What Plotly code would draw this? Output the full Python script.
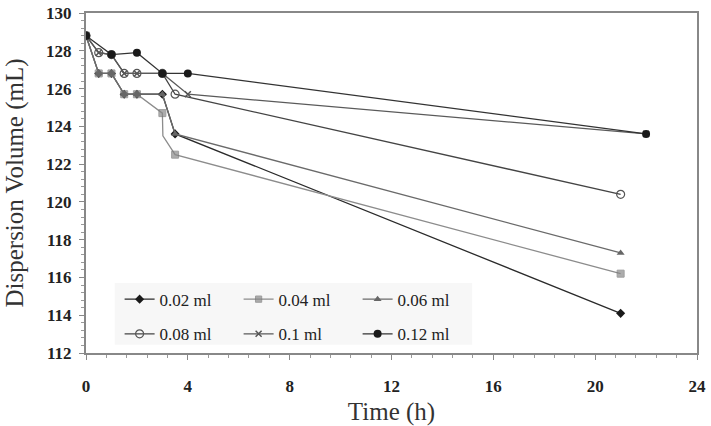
import plotly.graph_objects as go

labels = ["0.02 ml", "0.04 ml", "0.06 ml", "0.08 ml", "0.1 ml", "0.12 ml"]

t_002 = [0, 0.5, 1, 1.5, 2, 3, 3.5, 21]
v_002 = [128.8, 126.8, 126.8, 125.7, 125.7, 125.7, 123.6, 114.1]

t_004 = [0, 0.5, 1, 1.5, 2, 3, 3.02, 3.5, 21]
v_004 = [128.8, 126.8, 126.8, 125.7, 125.7, 124.7, 123.5, 122.5, 116.2]

t_006 = [0, 0.5, 1, 1.5, 2, 3, 3.5, 21]
v_006 = [128.8, 126.8, 126.8, 125.7, 125.7, 125.7, 123.6, 117.3]

t_008 = [0, 0.5, 1, 1.5, 2, 3, 3.5, 21]
v_008 = [128.8, 127.9, 127.8, 126.8, 126.8, 126.8, 125.7, 120.4]

t_010 = [0, 0.5, 1, 1.5, 2, 3, 4, 22]
v_010 = [128.8, 127.9, 127.8, 126.8, 126.8, 126.8, 125.7, 123.6]

t_012 = [0, 1, 2, 3, 4, 22]
v_012 = [128.8, 127.8, 127.9, 126.8, 126.8, 123.6]

x_ticks = [0, 4, 8, 12, 16, 20, 24]
y_ticks = [112, 114, 116, 118, 120, 122, 124, 126, 128, 130]

sq_sizes = [0 if t == 3.02 else 7 for t in t_004]

series = [
    (t_002, v_002, dict(symbol="diamond", size=7, color="#1a1a1a"), "#2a2a2a", "legend"),
    (t_004, v_004, dict(symbol="square", size=sq_sizes, color="#8a8a8a", line=dict(color="#777", width=1)), "#8c8c8c", "legend"),
    (t_006, v_006, dict(symbol="triangle-up", size=7, color="#666"), "#6a6a6a", "legend"),
    (t_008, v_008, dict(symbol="circle-open", size=8, color="#555", line=dict(width=1.2)), "#444", "legend2"),
    (t_010, v_010, dict(symbol="x-thin-open", size=6, color="#555", line=dict(width=1.5)), "#5a5a5a", "legend2"),
    (t_012, v_012, dict(symbol="circle", size=8, color="#1a1a1a"), "#333", "legend2"),
]

fig = go.Figure()
for (t, v, mk, lc, lg), name in zip(series, labels):
    fig.add_trace(go.Scatter(x=t, y=v, mode="lines+markers", name=name,
                             line=dict(color=lc, width=1.3), marker=mk, legend=lg))

serif = "Liberation Serif, Times New Roman, serif"

leg_common = dict(orientation="h", xanchor="left", yanchor="top",
                  font=dict(family=serif, size=17, color="#222"),
                  bgcolor="rgba(0,0,0,0)", entrywidth=74, entrywidthmode="pixels",
                  itemwidth=30, tracegroupgap=0)

fig.update_layout(
    width=711, height=426,
    margin=dict(l=86, r=14, t=13, b=73),
    paper_bgcolor="white", plot_bgcolor="white",
    showlegend=True,
    legend=dict(x=0.055, y=0.21, **leg_common),
    legend2=dict(x=0.055, y=0.108, **leg_common),
    xaxis=dict(range=[0, 24], tickvals=x_ticks, ticktext=[str(x) for x in x_ticks],
               automargin=False,
               showgrid=False, zeroline=False, showline=True, linecolor="#888", linewidth=2,
               mirror=True, ticks="outside", ticklen=5, tickcolor="#888",
               minor=dict(dtick=0.8, ticks="outside", ticklen=3, tickcolor="#999"),
               ticklabelstandoff=12,
               tickfont=dict(family=serif, size=17, color="#222", weight="bold"),
               title=dict(text="Time (h)", font=dict(family=serif, size=25, color="#333"))),
    yaxis=dict(range=[112, 130], tickvals=y_ticks, ticktext=[str(y) for y in y_ticks],
               automargin=False,
               showgrid=False, zeroline=False, showline=True, linecolor="#888", linewidth=2,
               mirror=True, ticks="outside", ticklen=5, tickcolor="#888",
               minor=dict(dtick=0.4, ticks="outside", ticklen=3, tickcolor="#999"),
               ticklabelstandoff=4,
               tickfont=dict(family=serif, size=17, color="#222", weight="bold"),
               title=dict(text="Dispersion Volume (mL)", font=dict(family=serif, size=25, color="#333"))),
    shapes=[dict(type="rect", xref="paper", yref="paper", x0=0.047, x1=0.632, y0=0.024, y1=0.206,
                 fillcolor="#f7f7f7", line=dict(width=0), layer="below")],
)

fig.write_html("out.html")
